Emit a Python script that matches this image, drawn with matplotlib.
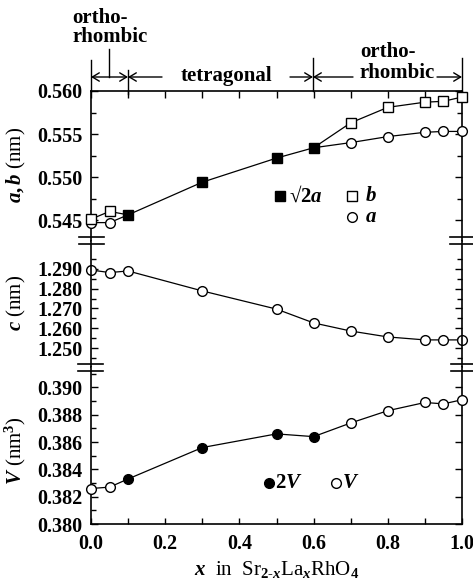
import matplotlib.pyplot as plt
from matplotlib.lines import Line2D
from matplotlib.patches import FancyArrowPatch
import numpy as np

plt.rcParams['font.family'] = 'Liberation Serif'
plt.rcParams['font.weight'] = 'bold'
plt.rcParams['mathtext.fontset'] = 'custom'
plt.rcParams['mathtext.rm'] = 'Liberation Serif:bold'
plt.rcParams['mathtext.it'] = 'Liberation Serif:italic:bold'
plt.rcParams['mathtext.bf'] = 'Liberation Serif:bold'

# lattice parameters of Sr(2-x)La(x)RhO4
x_b = [0.0, 0.05, 0.7, 0.8, 0.9, 0.95, 1.0]
b = [0.5451, 0.5460, 0.5563, 0.5581, 0.5587, 0.5588, 0.5593]
x_a = [0.0, 0.05, 0.7, 0.8, 0.9, 0.95, 1.0]
a = [0.5447, 0.5447, 0.5540, 0.5547, 0.5552, 0.5553, 0.5553]
x_t = [0.1, 0.3, 0.5, 0.6]
sqrt2a = [0.5456, 0.5494, 0.5522, 0.5534]

x_c = [0.0, 0.05, 0.1, 0.3, 0.5, 0.6, 0.7, 0.8, 0.9, 0.95, 1.0]
c = [1.2895, 1.2882, 1.2890, 1.2789, 1.2697, 1.2627, 1.2586, 1.2556, 1.2541, 1.2541, 1.2541]

x_V = [0.0, 0.05, 0.7, 0.8, 0.9, 0.95, 1.0]
V = [0.3826, 0.3827, 0.3874, 0.3883, 0.3889, 0.3888, 0.3891]
x_2V = [0.1, 0.3, 0.5, 0.6]
V2 = [0.3833, 0.3856, 0.3866, 0.3864]

W, H = 473, 582
fx = lambda px: px / W
fy = lambda py: 1 - py / H

fig = plt.figure(figsize=(W / 100, H / 100), dpi=100)
L, R = 91, 462
b1, b2, top, bot = 240.5, 367, 91, 524
ax1 = fig.add_axes([fx(L), fy(b1), fx(R - L), (b1 - top) / H])
ax2 = fig.add_axes([fx(L), fy(b2), fx(R - L), (b2 - b1) / H])
ax3 = fig.add_axes([fx(L), fy(bot), fx(R - L), (bot - b2) / H])

lw = 0.9
ms_sq = 7.5
ms_c = 7
for ax in (ax1, ax2, ax3):
    ax.set_xlim(0, 1.0)
    for s in ax.spines.values():
        s.set_linewidth(1.2)
    ax.tick_params(direction='in', which='both', left=True, right=True,
                   labelsize=14.5, pad=6, width=1)
    ax.tick_params(which='major', length=5)
    ax.tick_params(which='minor', length=3.5)

# a, b panel
ax1.spines['bottom'].set_visible(False)
ax1.set_ylim(0.54262, 0.560)
ax1.set_yticks([0.545, 0.550, 0.555, 0.560])
ax1.set_yticks(np.arange(0.5475, 0.560, 0.005), minor=True)
ax1.set_yticklabels(['0.545', '0.550', '0.555', '0.560'])
ax1.set_xticks(np.arange(0, 1.01, 0.1))
ax1.tick_params(axis='x', top=True, bottom=False, labelbottom=False)

up_x = x_b[:2] + x_t + x_b[2:]
up_y = b[:2] + sqrt2a + b[2:]
ax1.plot(up_x, up_y, color='black', lw=lw, zorder=2, clip_on=False)
ax1.plot(x_a[:2] + x_t[:1], a[:2] + sqrt2a[:1], color='black', lw=lw, zorder=2, clip_on=False)
ax1.plot(x_t[-1:] + x_a[2:], sqrt2a[-1:] + a[2:], color='black', lw=lw, zorder=2, clip_on=False)
ax1.plot(x_b, b, 's', ms=ms_sq, mfc='white', mec='black', mew=1, zorder=4, clip_on=False)
ax1.plot(x_a, a, 'o', ms=ms_c, mfc='white', mec='black', mew=1, zorder=3, clip_on=False)
ax1.plot(x_t, sqrt2a, 's', ms=ms_sq, mfc='black', mec='black', zorder=4, clip_on=False)

ax1.plot([0.509], [0.298], 's', ms=7, color='black', transform=ax1.transAxes)
ax1.text(0.533, 0.298, r'√2$a$', transform=ax1.transAxes, fontsize=15,
         va='center', ha='left')
ax1.plot([0.704], [0.298], 's', ms=7, mfc='white', mec='black', transform=ax1.transAxes)
ax1.text(0.738, 0.298, r'$b$', transform=ax1.transAxes, fontsize=15, va='center', ha='left')
ax1.plot([0.704], [0.157], 'o', ms=7, mfc='white', mec='black', transform=ax1.transAxes)
ax1.text(0.738, 0.157, r'$a$', transform=ax1.transAxes, fontsize=15, va='center', ha='left')

ax1.set_ylabel(r'$a,b$ (nm)', fontsize=15)
ax1.yaxis.set_label_coords(-0.17, 0.505)

# c panel
ax2.spines['top'].set_visible(False)
ax2.spines['bottom'].set_visible(False)
ax2.set_ylim(1.24038, 1.30443)
ax2.set_yticks([1.25, 1.26, 1.27, 1.28, 1.29])
ax2.set_yticklabels(['1.250', '1.260', '1.270', '1.280', '1.290'])
ax2.set_yticks(np.arange(1.245, 1.30, 0.01), minor=True)
ax2.tick_params(axis='x', bottom=False, labelbottom=False)
ax2.plot(x_c, c, '-o', color='black', lw=lw, ms=ms_c, mfc='white', mec='black',
         mew=1, clip_on=False)
ax2.set_ylabel(r'$c$ (nm)', fontsize=15)
ax2.yaxis.set_label_coords(-0.17, 0.506)

# V panel
ax3.spines['top'].set_visible(False)
ax3.set_ylim(0.380, 0.3915)
ax3.set_yticks(np.arange(0.380, 0.3905, 0.002))
ax3.set_yticklabels(['0.380', '0.382', '0.384', '0.386', '0.388', '0.390'])
ax3.set_yticks(np.arange(0.381, 0.3915, 0.002), minor=True)
ax3.set_xticks(np.arange(0, 1.01, 0.1), minor=True)
ax3.set_xticks([0, 0.2, 0.4, 0.6, 0.8, 1.0])
ax3.set_xticklabels(['0.0', '0.2', '0.4', '0.6', '0.8', '1.0'])
ax3.tick_params(axis='x', which='both', length=4, pad=7)
ax3.tick_params(axis='y', which='minor', right=False)

all_x = sorted(x_V + x_2V)
all_v = [dict(zip(x_V + x_2V, V + V2))[k] for k in all_x]
ax3.plot(all_x, all_v, color='black', lw=lw, zorder=2, clip_on=False)
ax3.plot(x_V, V, 'o', ms=ms_c, mfc='white', mec='black', mew=1, zorder=3, clip_on=False)
ax3.plot(x_2V, V2, 'o', ms=ms_c, mfc='black', mec='black', zorder=3, clip_on=False)

ax3.plot([0.480], [0.261], 'o', ms=7, color='black', transform=ax3.transAxes)
ax3.text(0.497, 0.261, r'2$V$', transform=ax3.transAxes, fontsize=15, va='center', ha='left')
ax3.plot([0.660], [0.261], 'o', ms=7, mfc='white', mec='black', transform=ax3.transAxes)
ax3.text(0.676, 0.261, r'$V$', transform=ax3.transAxes, fontsize=15, va='center', ha='left')

ax3.set_ylabel(r'$V$ (nm$^{3}$)', fontsize=15)
ax3.yaxis.set_label_coords(-0.17, 0.47)
ax3.set_xlabel(r'$x$  in  Sr$_{2\text{-}x}$La$_{x}$RhO$_{4}$', fontsize=15, labelpad=4)

# axis break marks
def brk(x0, x1, y):
    fig.add_artist(Line2D([fx(x0), fx(x1)], [fy(y), fy(y)], color='black', lw=1.2))

for yy in (237, 244):
    brk(79, 104, yy)
    brk(450, 473, yy)
for yy in (364, 371):
    brk(78, 103, yy)
    brk(451, 473, yy)

# phase regions along the top
def vline(x, y0, y1):
    fig.add_artist(Line2D([fx(x), fx(x)], [fy(y0), fy(y1)], color='black', lw=1))

vline(91, 60, 91)
vline(128, 70, 94)
vline(313, 58, 91)
vline(462, 58, 91)
vline(109, 49, 77)

def arrow(x0, x1, y, style):
    fig.add_artist(FancyArrowPatch(
        (fx(x0), fy(y)), (fx(x1), fy(y)), transform=fig.transFigure,
        arrowstyle=style + ',head_length=5,head_width=3', color='black',
        lw=1, shrinkA=0, shrinkB=0, mutation_scale=1))

arrow(91, 128, 77, '<->')
arrow(162, 128, 77, '->')
arrow(290, 313, 77, '->')
arrow(353, 313, 77, '->')
arrow(437, 462, 77, '->')

fig.text(fx(72), fy(18), 'ortho-', fontsize=15, ha='left', va='center')
fig.text(fx(72), fy(37), 'rhombic', fontsize=15, ha='left', va='center')
fig.text(fx(226), fy(76), 'tetragonal', fontsize=15, ha='center', va='center')
fig.text(fx(360), fy(52), 'ortho-', fontsize=15, ha='left', va='center')
fig.text(fx(360), fy(73), 'rhombic', fontsize=15, ha='left', va='center')

fig.savefig('out.png', dpi=100)
